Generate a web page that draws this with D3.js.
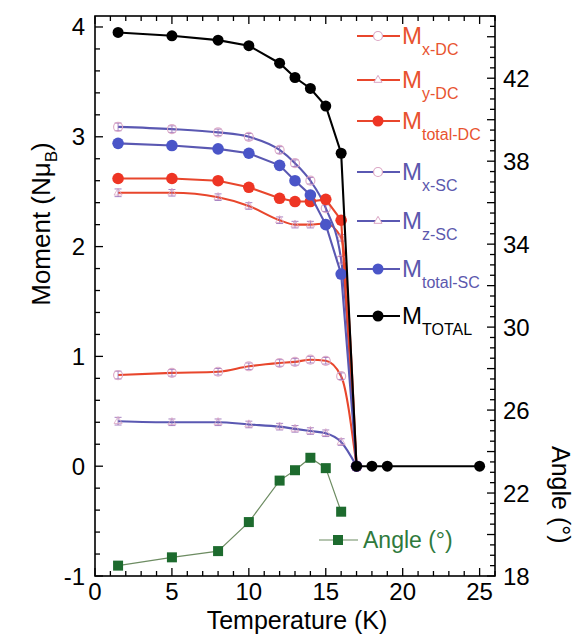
<!DOCTYPE html>
<html><head><meta charset="utf-8">
<script src="https://cdn.jsdelivr.net/npm/d3@7"></script>
<style>body{margin:0;background:#fff}</style>
</head><body><svg id="chart" width="580" height="636"></svg>
<script>
// Temperatures (K) for the moment components
const temps = [1.5, 5, 8, 10, 12, 13, 14, 15, 16, 17];
// DC phase components (N muB)
const mxDC = [0.83, 0.85, 0.86, 0.91, 0.94, 0.95, 0.97, 0.96, 0.82, 0];
const myDC = [2.49, 2.49, 2.45, 2.37, 2.24, 2.20, 2.20, 2.21, 2.08, 0];
const mTotalDC = [2.62, 2.62, 2.60, 2.54, 2.44, 2.41, 2.41, 2.43, 2.24, 0];
// SC phase components (N muB)
const mxSC = [3.09, 3.07, 3.04, 3.00, 2.88, 2.76, 2.60, 2.35, 1.88, 0];
const mzSC = [0.41, 0.40, 0.40, 0.38, 0.36, 0.34, 0.32, 0.30, 0.22, 0];
const mTotalSC = [2.94, 2.92, 2.89, 2.85, 2.74, 2.60, 2.47, 2.20, 1.75, 0];
// Total moment
const totalTemps = [1.5, 5, 8, 10, 12, 13, 14, 15, 16, 17, 18, 19, 25];
const mTotal = [3.95, 3.92, 3.88, 3.83, 3.67, 3.54, 3.44, 3.28, 2.85, 0, 0, 0, 0];
// Canting angle (degrees)
const angleTemps = [1.5, 5, 8, 10, 12, 13, 14, 15, 16];
const angle = [18.5, 18.9, 19.2, 20.6, 22.6, 23.1, 23.7, 23.2, 21.1];
// Error bar half-widths for the fitted components
const errHalf = [0.035, 0.03, 0.03, 0.03, 0.03, 0.03, 0.03, 0.03, 0.03];

const xTicks = [0, 5, 10, 15, 20, 25];
const yTicks = [-1, 0, 1, 2, 3, 4];
const angleTicks = [18, 22, 26, 30, 34, 38, 42];

const FONT = "'Liberation Sans', Arial, Helvetica, sans-serif";
const RED = "#e8462c", RED_DOT = "#ee3524";
const BLUE = "#5a58b2", BLUE_DOT = "#4a55c8";
const OPEN = "#dba6c4";
const GREEN = "#1d6b2e", GREEN_LINE = "#6d8c62";

const svg = d3.select("#chart").style("font-family", FONT);
svg.append("rect").attr("width", 580).attr("height", 636).attr("fill", "#fff");

const L = 95, R = 495, T = 16, B = 576;
const x = d3.scaleLinear().domain([0, 26]).range([L, R]);
const y = d3.scaleLinear().domain([-1, 4.1]).range([B, T]);
const yA = d3.scaleLinear().domain([18, 45]).range([B, T]);

// Axes with inward ticks
function steps(step, lo, hi) {
  const out = [];
  for (let v = lo; v <= hi + 1e-9; v += step) out.push(+v.toFixed(4));
  return out;
}
const ax = svg.append("g").attr("stroke", "#000").attr("stroke-width", 1.3);
// bottom / top
steps(1, 0, 26).forEach(v => {
  const major = Math.abs(v % 5) < 1e-6;
  const len = major ? 8 : 5;
  ax.append("line").attr("x1", x(v)).attr("x2", x(v)).attr("y1", B).attr("y2", B - len);
  ax.append("line").attr("x1", x(v)).attr("x2", x(v)).attr("y1", T).attr("y2", T + len);
});
// left
steps(0.2, -1, 4).forEach(v => {
  const major = Math.abs(v - Math.round(v)) < 1e-6;
  const len = major ? 8 : 5;
  ax.append("line").attr("x1", L).attr("x2", L + len).attr("y1", y(v)).attr("y2", y(v));
});
// right
steps(0.5, 18, 45).forEach(v => {
  const major = Math.abs(v % 2) < 1e-6;
  const len = major ? 8 : 5;
  ax.append("line").attr("x1", R).attr("x2", R - len).attr("y1", yA(v)).attr("y2", yA(v));
});
svg.append("rect").attr("x", L).attr("y", T).attr("width", R - L).attr("height", B - T)
  .attr("fill", "none").attr("stroke", "#000").attr("stroke-width", 1.6);

// Tick labels
svg.append("g").selectAll("text").data(xTicks).join("text")
  .attr("x", d => x(d)).attr("y", 600).attr("text-anchor", "middle")
  .attr("font-size", 24).text(d => d);
svg.append("g").selectAll("text").data(yTicks).join("text")
  .attr("x", 85).attr("y", d => y(d) + 8.5).attr("text-anchor", "end")
  .attr("font-size", 24).text(d => d);
svg.append("g").selectAll("text").data(angleTicks).join("text")
  .attr("x", 503).attr("y", d => yA(d) + 8.5).attr("text-anchor", "start")
  .attr("font-size", 24).text(d => d);

// Axis titles
svg.append("text").attr("x", 297).attr("y", 629).attr("text-anchor", "middle")
  .attr("font-size", 25).text("Temperature (K)");
const yl = svg.append("text").attr("transform", "translate(50,224) rotate(-90)")
  .attr("text-anchor", "middle").attr("font-size", 26);
yl.append("tspan").text("Moment (Nμ");
yl.append("tspan").attr("font-size", 17).attr("dy", 7).text("B");
yl.append("tspan").attr("dy", -7).text(")");
svg.append("text").attr("transform", "translate(552,446) rotate(90)")
  .attr("text-anchor", "start").attr("font-size", 25).text("Angle (°)");

// Angle series
const angPts = angleTemps.map((t, i) => [t, angle[i]]);
svg.append("path").datum(angPts)
  .attr("d", d3.line().x(d => x(d[0])).y(d => yA(d[1])))
  .attr("fill", "none").attr("stroke", GREEN_LINE).attr("stroke-width", 1.2);
svg.append("g").selectAll("rect").data(angPts).join("rect")
  .attr("x", d => x(d[0]) - 5).attr("y", d => yA(d[1]) - 5)
  .attr("width", 10).attr("height", 10).attr("fill", GREEN);

// Component lines (smooth) with open markers and error bars
const smooth = d3.line().curve(d3.curveMonotoneX).x(d => x(d[0])).y(d => y(d[1]));
const straight = d3.line().x(d => x(d[0])).y(d => y(d[1]));

function component(values, color, marker) {
  const pts = temps.map((t, i) => [t, values[i]]);
  svg.append("path").datum(pts).attr("d", smooth)
    .attr("fill", "none").attr("stroke", color).attr("stroke-width", 2.1);
  const g = svg.append("g");
  pts.slice(0, -1).forEach((p, i) => {
    const cx = x(p[0]), cy = y(p[1]);
    const e = errHalf[i];
    g.append("path").attr("d",
      `M${cx},${y(p[1] + e)}V${y(p[1] - e)}M${cx - 3.5},${y(p[1] + e)}H${cx + 3.5}M${cx - 3.5},${y(p[1] - e)}H${cx + 3.5}`)
      .attr("stroke", "#9a6fb8").attr("stroke-width", 1).attr("fill", "none").attr("opacity", 0.85);
    if (marker === "circle") {
      g.append("circle").attr("cx", cx).attr("cy", cy).attr("r", 4.5)
        .attr("fill", "none").attr("stroke", OPEN).attr("stroke-width", 1.2).attr("opacity", 0.9);
    } else {
      g.append("path").attr("d", d3.symbol(d3.symbolTriangle, 28)())
        .attr("transform", `translate(${cx},${cy})`)
        .attr("fill", "none").attr("stroke", OPEN).attr("stroke-width", 1).attr("opacity", 0.8);
    }
  });
}
component(mxDC, RED, "circle");
component(myDC, RED, "triangle");
component(mxSC, BLUE, "circle");
component(mzSC, BLUE, "triangle");

function totalSeries(ts, values, color, dotColor, r) {
  const pts = ts.map((t, i) => [t, values[i]]);
  svg.append("path").datum(pts).attr("d", straight)
    .attr("fill", "none").attr("stroke", color).attr("stroke-width", 2.1);
  svg.append("g").selectAll("circle").data(pts).join("circle")
    .attr("cx", d => x(d[0])).attr("cy", d => y(d[1])).attr("r", r).attr("fill", dotColor);
}
totalSeries(temps, mTotalDC, RED, RED_DOT, 5.8);
totalSeries(temps, mTotalSC, BLUE, BLUE_DOT, 5.8);
totalSeries(totalTemps, mTotal, "#000", "#000", 5.5);

// Legend
const legend = [
  { sub: "x-DC", color: RED, text: "#e8532f", mark: "circle", y: 36 },
  { sub: "y-DC", color: RED, text: "#e8532f", mark: "triangle", y: 80 },
  { sub: "total-DC", color: RED, text: "#e8532f", mark: "dot", dot: RED_DOT, y: 121 },
  { sub: "x-SC", color: BLUE, text: "#5c58ad", mark: "circle", y: 172 },
  { sub: "z-SC", color: BLUE, text: "#5c58ad", mark: "triangle", y: 221 },
  { sub: "total-SC", color: BLUE, text: "#5c58ad", mark: "dot", dot: BLUE_DOT, y: 269 },
  { sub: "TOTAL", color: "#000", text: "#000", mark: "dot", dot: "#000", y: 316 }
];
legend.forEach(d => {
  const g = svg.append("g");
  g.append("line").attr("x1", 357).attr("x2", 400).attr("y1", d.y).attr("y2", d.y)
    .attr("stroke", d.color).attr("stroke-width", 2.1);
  if (d.mark === "dot") {
    g.append("circle").attr("cx", 378).attr("cy", d.y).attr("r", 5.5).attr("fill", d.dot);
  } else if (d.mark === "circle") {
    g.append("circle").attr("cx", 378).attr("cy", d.y).attr("r", 4.5)
      .attr("fill", "#fff").attr("stroke", OPEN).attr("stroke-width", 1.2);
  } else {
    g.append("path").attr("d", d3.symbol(d3.symbolTriangle, 28)())
      .attr("transform", `translate(378,${d.y})`)
      .attr("fill", "#fff").attr("stroke", OPEN).attr("stroke-width", 1);
  }
  const t = g.append("text").attr("x", 402).attr("y", d.y + 8).attr("fill", d.text).attr("font-size", 24);
  t.append("tspan").text("M");
  t.append("tspan").attr("font-size", 16).attr("dy", 11).text(d.sub);
});
// Angle legend
svg.append("line").attr("x1", 319).attr("x2", 358).attr("y1", 540).attr("y2", 540)
  .attr("stroke", GREEN_LINE).attr("stroke-width", 1.2);
svg.append("rect").attr("x", 333).attr("y", 535).attr("width", 10).attr("height", 10).attr("fill", GREEN);
svg.append("text").attr("x", 363).attr("y", 548).attr("fill", "#2f7a3c").attr("font-size", 23).text("Angle (°)");
</script></body></html>
